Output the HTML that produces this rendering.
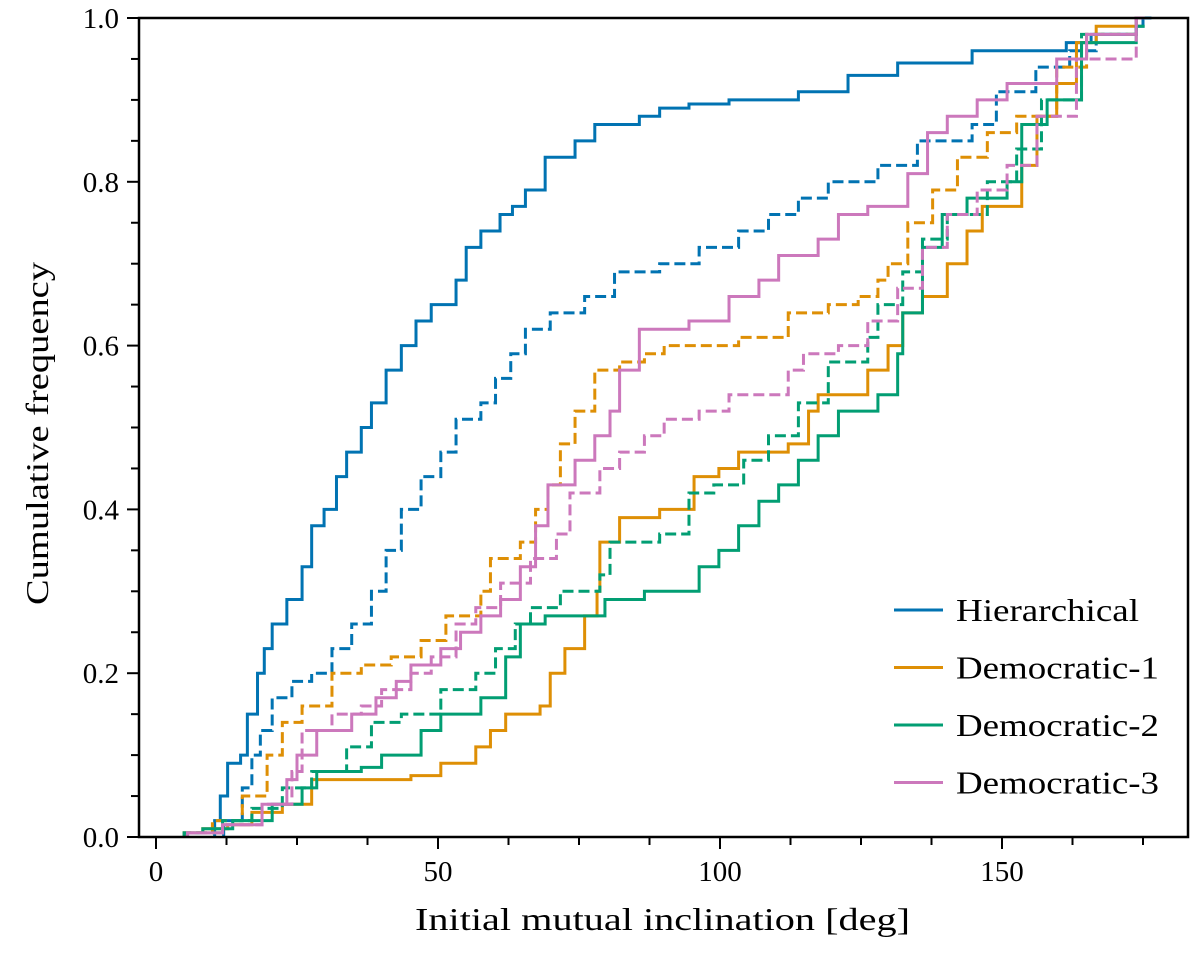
<!DOCTYPE html>
<html><head><meta charset="utf-8"><style>
body{margin:0;background:#fff}
svg text{font-family:"Liberation Serif",serif;fill:#000}
</style></head><body>
<svg id="chart" width="1200" height="961" xmlns="http://www.w3.org/2000/svg"></svg>
<script>
const hierX=[10.4,11.4,12.7,15,16.2,18,19.2,20.6,23.2,25.9,27.6,29.8,32,33.8,36.4,38.2,40.8,43.5,46.1,48.8,53.2,55,57.6,61,63.2,65.5,69,74.3,77.8,85.7,89.3,94.5,101.6,113.9,122.7,131.5,144.7,161.4,165.8,173.8,175];
const hierY=[0.02,0.05,0.09,0.10,0.15,0.2,0.23,0.26,0.29,0.33,0.38,0.40,0.44,0.47,0.50,0.53,0.57,0.60,0.63,0.65,0.68,0.72,0.74,0.76,0.77,0.79,0.83,0.85,0.87,0.88,0.89,0.895,0.90,0.91,0.93,0.945,0.96,0.97,0.98,0.99,1.0];
const hierDX=[12,15.3,17,18.5,20.6,24.1,27.6,31.2,34.7,38.2,40.8,43.5,47,50.5,53.2,57.6,60.2,62.9,65.5,69.9,76,81.3,89.3,96.3,103.3,108.6,113.9,119.2,128,135,144.7,149,156,162,166.7,173.8];
const hierDY=[0.02,0.06,0.1,0.13,0.17,0.19,0.2,0.23,0.26,0.3,0.35,0.4,0.44,0.47,0.51,0.53,0.56,0.59,0.62,0.64,0.66,0.69,0.70,0.72,0.74,0.76,0.78,0.80,0.82,0.85,0.87,0.91,0.94,0.96,0.98,1.0];
const d1X=[5,8.3,12.7,17,22.4,27.6,45.2,50.5,56.7,59.3,62,68.1,69.9,72.5,76,78.2,78.7,82.2,89.3,95.4,99.8,103.3,112.1,115.7,117.4,126.2,129.8,132.4,135.9,140.3,143.8,146.5,153.5,156.2,159.7,163.2,166.7,173.8];
const d1Y=[0.005,0.01,0.015,0.03,0.04,0.07,0.075,0.09,0.11,0.13,0.15,0.16,0.2,0.23,0.27,0.30,0.36,0.39,0.40,0.44,0.45,0.47,0.48,0.52,0.54,0.57,0.60,0.64,0.66,0.70,0.74,0.77,0.82,0.88,0.92,0.97,0.99,1.0];
const d1DX=[5,10,15.3,19.7,22.4,25.9,31.2,36.4,41.7,47,51.4,57.6,59.3,64.6,67.3,69.5,71.7,74.3,77.8,82.2,86.6,90.1,103.3,112.1,119.2,124.5,128,129.8,133.3,137.7,142.1,147.4,152.6,159.7,165,173.8];
const d1DY=[0.005,0.02,0.05,0.1,0.14,0.16,0.2,0.21,0.22,0.24,0.27,0.30,0.34,0.36,0.40,0.43,0.48,0.52,0.57,0.58,0.59,0.60,0.61,0.64,0.65,0.66,0.68,0.70,0.75,0.79,0.83,0.86,0.88,0.94,0.98,1.0];
const d2X=[5,8.3,13.6,20.6,25.9,28.5,36.4,40,47,50.5,57.6,62,64.6,69,79.6,86.6,96.3,99.8,103.3,106.9,110.4,113.9,117.4,121,128,131.5,132.4,135.9,139.4,143.8,150.9,153.5,158,164.1,173.8];
const d2Y=[0.005,0.01,0.02,0.04,0.06,0.08,0.085,0.1,0.13,0.15,0.17,0.22,0.26,0.27,0.29,0.30,0.33,0.35,0.38,0.41,0.43,0.46,0.49,0.52,0.54,0.59,0.64,0.72,0.76,0.78,0.80,0.87,0.90,0.97,0.99];
const d2DX=[5,11.8,17,22.4,27.6,33.8,38.2,43.5,50.5,56.7,60.2,63.7,66.4,71.7,78.7,80.5,89.3,94.5,98.9,104.2,108.6,113.9,119.2,126.2,128,132.4,135.9,140.3,147.4,152.6,157,164.1,173.8];
const d2DY=[0.005,0.02,0.035,0.06,0.08,0.11,0.14,0.15,0.18,0.20,0.23,0.26,0.28,0.30,0.32,0.36,0.37,0.42,0.43,0.46,0.49,0.53,0.58,0.61,0.65,0.69,0.73,0.76,0.80,0.84,0.90,0.98,1.0];
const d3X=[5.6,11.8,18.8,23.2,25,28.5,34.7,39,42.6,45.2,50.5,54,57.6,61.1,64.6,67.3,69.5,74.3,77.8,80.5,82.2,85.7,94.5,101.6,106.9,110.4,117.4,121,126.2,133.3,136.8,140.3,145.6,150.9,159.7,165,173.8];
const d3Y=[0.005,0.015,0.04,0.07,0.1,0.13,0.15,0.17,0.19,0.21,0.23,0.25,0.27,0.29,0.33,0.38,0.43,0.46,0.49,0.52,0.57,0.62,0.63,0.66,0.68,0.71,0.73,0.76,0.77,0.81,0.86,0.88,0.90,0.92,0.95,0.98,1.0];
const d3DX=[5.6,11.8,18.8,24.1,25.9,31.2,36.4,40,45.2,48.8,53.2,56.7,61.1,66.4,71,73.4,78.7,82.2,86.6,90.1,96.3,101.6,112.1,114.8,121,126.2,131.5,135.9,140.3,145.6,150.9,156.2,163.2,173.8];
const d3DY=[0.005,0.015,0.04,0.08,0.13,0.15,0.16,0.18,0.2,0.22,0.26,0.28,0.31,0.34,0.37,0.42,0.45,0.47,0.49,0.51,0.52,0.54,0.57,0.59,0.60,0.63,0.67,0.72,0.76,0.79,0.82,0.88,0.95,1.0];
const xTicks=[0,50,100,150];
const yTicks=[0,0.2,0.4,0.6,0.8,1.0];
const seriesNames=["Hierarchical","Democratic-1","Democratic-2","Democratic-3"];

const svg=document.getElementById('chart');
const NS='http://www.w3.org/2000/svg';
const L=139,R=1188,T=18,B=837;
const sx=v=>156+v*5.64;
const sy=v=>B-v*(B-T);
function mk(tag,attrs){const e=document.createElementNS(NS,tag);for(const k in attrs)e.setAttribute(k,attrs[k]);svg.appendChild(e);return e;}
const colors=['#0173b2','#de8f05','#029e73','#cc78bc'];
const series=[[hierX,hierY,0,false],[hierDX,hierDY,0,true],[d1X,d1Y,1,false],[d1DX,d1DY,1,true],[d2X,d2Y,2,false],[d2DX,d2DY,2,true],[d3X,d3Y,3,false],[d3DX,d3DY,3,true]];
series.forEach(([xs,ys,ci,dashed])=>{
  let d='M'+sx(xs[0])+','+sy(0);
  for(let i=0;i<xs.length;i++){d+=' H'+sx(xs[i])+' V'+sy(ys[i]);}
  d+=' H'+sx(xs[xs.length-1]+1.5);
  const p=mk('path',{d:d,fill:'none',stroke:colors[ci],'stroke-width':3,'stroke-dasharray':dashed?'11,5':'none'});
  
  
});
const frame=mk('rect',{x:L,y:T,width:R-L,height:B-T,fill:'none',stroke:'#000','stroke-width':2.5});


for(let v=0;v<=175;v+=12.5){
  const major=v%50===0;
  const t=mk('line',{x1:sx(v),x2:sx(v),y1:B,y2:B+(major?12:8),stroke:'#000','stroke-width':2});
  
  
}
xTicks.forEach(v=>{
  const t=mk('text',{x:sx(v),y:B+44,'font-size':29,'text-anchor':'middle'});t.textContent=v;
  
  
});
for(let i=0;i<=20;i++){
  const v=i*0.05;const major=i%4===0;
  const t=mk('line',{x1:L,x2:L-(major?12:8),y1:sy(v),y2:sy(v),stroke:'#000','stroke-width':2});
  
  
}
yTicks.forEach(v=>{
  const t=mk('text',{x:L-20,y:sy(v)+10,'font-size':29,'text-anchor':'end'});t.textContent=v.toFixed(1);
  
  
});
const xt=mk('text',{x:415,y:930,'font-size':32,textLength:495,lengthAdjust:'spacingAndGlyphs'});xt.textContent='Initial mutual inclination [deg]';


const yt=mk('text',{x:0,y:0,'font-size':32,textLength:343,lengthAdjust:'spacingAndGlyphs',transform:'translate(48,605) rotate(-90)'});yt.textContent='Cumulative frequency';


seriesNames.forEach((n,i)=>{
  const y=610+i*57.5;
  const ln=mk('line',{x1:894,x2:943,y1:y,y2:y,stroke:colors[i],'stroke-width':3});
  
  
  const t=mk('text',{x:956,y:y+11,'font-size':32,textLength:i===0?183:203,lengthAdjust:'spacingAndGlyphs'});t.textContent=n;
  
  
});
</script>
</body></html>
